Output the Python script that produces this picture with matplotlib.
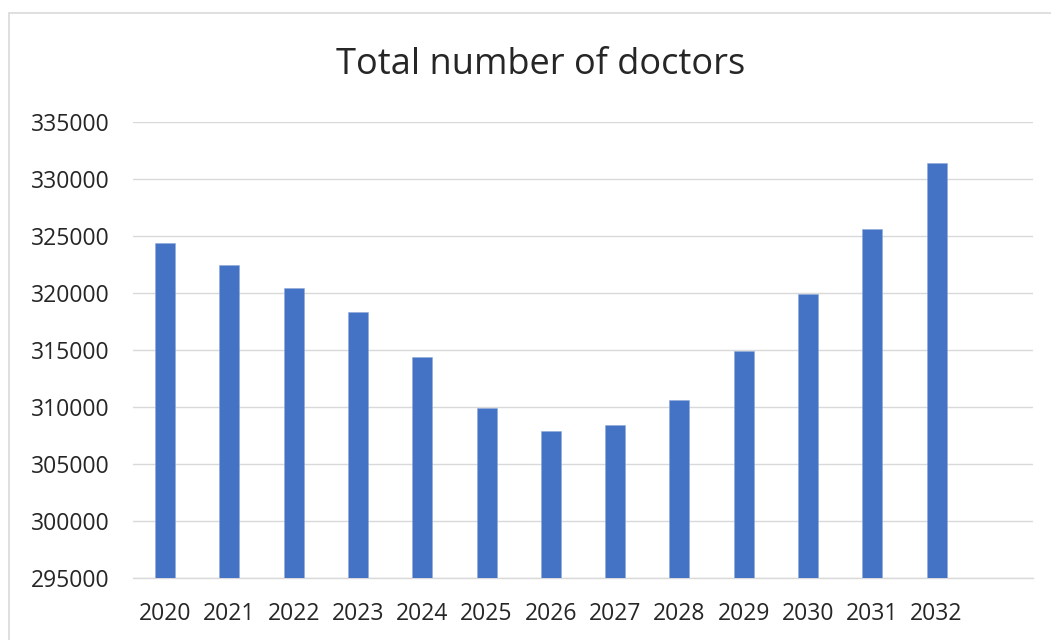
import matplotlib.pyplot as plt
from matplotlib.patches import Rectangle

# data
years = ['2020', '2021', '2022', '2023', '2024', '2025', '2026',
         '2027', '2028', '2029', '2030', '2031', '2032']
doctors = [324360, 322460, 320470, 318310, 314370, 309950, 307880,
           308460, 310650, 314920, 319890, 325590, 331370]
yticks = [295000, 300000, 305000, 310000, 315000, 320000, 325000, 330000, 335000]

plt.rcParams['font.family'] = ['Open Sans', 'DejaVu Sans']

W, H = 1051, 640
fig = plt.figure(figsize=(W / 100, H / 100), dpi=100)

# axes box in pixels
left, right, top, bottom = 133, 1033, 122, 578.3
ax = fig.add_axes([left / W, 1 - bottom / H, (right - left) / W, (bottom - top) / H])

x = list(range(len(years)))
ax.bar(x, [v - yticks[0] for v in doctors], bottom=yticks[0], width=0.31,
       color='#4472C4', edgecolor='#8EA9DB', linewidth=0.4, zorder=3)

ax.set_xlim(-0.5, 13.5)   # one empty slot on the right as in the original
ax.set_ylim(yticks[0], yticks[-1])
ax.set_yticks(yticks)
ax.set_yticklabels([str(t) for t in yticks])
ax.set_xticks(x)
ax.set_xticklabels(years)

ax.grid(axis='y', color='#D9D9D9', linewidth=1.0, zorder=0)
ax.set_axisbelow(True)
for s in ['top', 'right', 'left']:
  ax.spines[s].set_visible(False)
ax.spines['bottom'].set_color('#D9D9D9')
ax.spines['bottom'].set_linewidth(1.0)
ax.spines['bottom'].set_zorder(1)

ax.tick_params(axis='both', length=0, labelsize=16.5, colors='#262626')
ax.tick_params(axis='y', pad=17)
ax.tick_params(axis='x', pad=17)

fig.text(541 / W, 1 - 74 / H, 'Total number of doctors', ha='center', va='baseline',
         fontsize=26, color='#262626')

# chart-area border, runs off the right and bottom edges
fig.patches.append(Rectangle((8.5 / W, -0.05), 1.1, 1 - 13 / H + 0.05,
                             transform=fig.transFigure, fill=False,
                             edgecolor='#D9D9D9', linewidth=1.2))

fig.savefig('out.png', dpi=100)
